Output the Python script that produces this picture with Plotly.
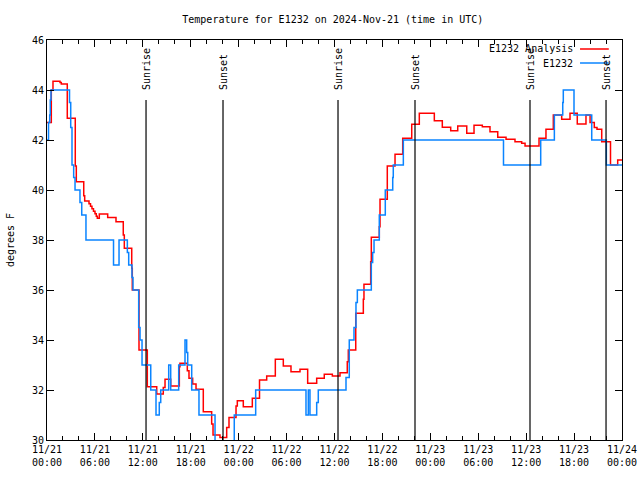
import pandas as pd
import plotly.graph_objects as go

base = pd.Timestamp("2024-11-21 00:00")

# E1232 (observed) : hours since 2024-11-21 00:00 UTC, temperature (F)
obs_hours = [0.00, 0.19, 0.34, 0.41, 0.50, 2.82, 2.97, 3.13, 3.34, 3.51, 4.13, 4.35, 4.88,
             8.33, 9.02, 10.06, 10.23, 10.64, 10.77, 11.48, 11.65, 11.90, 12.99, 13.65, 14.06,
             14.24, 15.24, 15.49, 16.49, 17.28, 17.49, 17.62, 18.12, 19.03, 21.04, 23.45,
             26.13, 32.43, 32.72, 32.93, 33.77, 33.97, 37.44, 37.85, 38.44, 38.69, 38.86,
             40.61, 40.78, 40.95, 41.61, 42.36, 43.29, 43.36, 44.62, 57.16, 61.82, 63.53,
             64.58, 64.65, 65.99, 68.21, 70.04, 72.00]
obs_temp = [42.0, 42.7, 43.0, 43.6, 44.0, 43.5, 42.5, 41.0, 40.5, 40.0, 39.5, 39.0, 38.0,
            37.0, 38.0, 37.5, 37.0, 36.5, 36.0, 34.5, 34.0, 33.0, 32.0, 31.0, 31.5,
            32.0, 33.0, 32.0, 33.0, 34.0, 33.5, 33.0, 32.0, 31.0, 29.5, 31.0,
            32.0, 31.0, 32.0, 31.0, 31.5, 32.0, 32.5, 34.0, 34.5, 35.5, 36.0,
            37.1, 37.5, 38.0, 39.0, 40.0, 40.5, 41.0, 42.0, 41.0, 42.0, 43.0,
            43.5, 44.0, 43.0, 42.0, 41.0, 41.0]

# E1232 Analysis
ana_hours = [0.00, 0.54, 0.75, 1.63, 1.79, 2.54, 3.54, 3.67, 4.60, 4.72, 5.26, 5.45, 5.63,
             5.82, 6.01, 6.17, 6.30, 6.55, 7.60, 8.64, 9.55, 9.68, 10.61, 10.68, 11.52,
             12.56, 13.74, 14.56, 14.78, 15.49, 16.57, 16.65, 17.57, 17.78, 18.24, 18.66,
             19.57, 20.62, 20.79, 21.66, 22.50, 22.79, 23.67, 23.83, 24.58, 25.71, 26.61,
             27.51, 28.59, 29.59, 30.55, 31.68, 32.64, 33.77, 34.72, 35.73, 36.69, 37.60,
             37.73, 38.66, 39.61, 39.69, 40.53, 40.61, 41.61, 41.70, 42.61, 43.58, 44.54,
             45.67, 46.62, 48.50, 49.50, 50.55, 51.43, 52.56, 53.47, 54.51, 55.47, 56.44,
             57.48, 58.60, 59.44, 59.86, 61.61, 62.48, 63.40, 64.45, 65.49, 66.40, 67.49,
             68.00, 68.53, 68.87, 69.46, 70.56, 71.46, 72.00]
ana_temp = [42.7, 44.0, 44.35, 44.3, 44.24, 42.87, 40.96, 40.33, 39.77, 39.56, 39.45, 39.35, 39.25,
            39.15, 39.05, 38.95, 38.87, 39.04, 38.9, 38.73, 38.2, 37.67, 36.87, 36.0, 33.6,
            32.13, 31.84, 32.1, 32.43, 32.16, 32.93, 33.07, 32.77, 32.47, 32.24, 32.03,
            31.13, 30.64, 30.2, 30.1, 30.5, 30.9, 31.36, 31.57, 31.33, 31.67, 32.4,
            32.56, 33.23, 32.96, 32.73, 32.83, 32.27, 32.47, 32.63, 32.56, 32.69, 33.13,
            33.6, 35.07, 35.63, 36.23, 37.13, 38.11, 38.53, 39.63, 40.96, 41.43, 42.07,
            42.63, 43.07, 42.77, 42.51, 42.37, 42.56, 42.27, 42.59, 42.53, 42.33, 42.11,
            42.03, 41.93, 41.87, 41.76, 42.07, 42.43, 43.0, 42.83, 43.07, 42.64, 43.0,
            42.7, 42.5, 42.43, 41.93, 41.0, 41.2, 41.2]

# Sun events (hours since start)
sun_hours = [12.40, 22.04, 36.44, 46.08, 60.48, 70.00]
sun_labels = ["Sunrise", "Sunset", "Sunrise", "Sunset", "Sunrise", "Sunset"]

def to_time(hours):
    return [base + pd.Timedelta(hours=h) for h in hours]

FONT = "DejaVu Sans Mono"
RED = "#ff0000"
BLUE = "#0a84ff"

fig = go.Figure()
fig.add_trace(go.Scatter(x=to_time(ana_hours), y=ana_temp, mode="lines", line_shape="hv",
                         line=dict(color=RED, width=1.5), name="E1232 Analysis"))
fig.add_trace(go.Scatter(x=to_time(obs_hours), y=obs_temp, mode="lines", line_shape="hv",
                         line=dict(color=BLUE, width=1.5), name="E1232"))

shapes = []
annotations = []
for h, lab in zip(sun_hours, sun_labels):
    t = base + pd.Timedelta(hours=h)
    shapes.append(dict(type="line", xref="x", yref="paper", x0=t, x1=t, y0=0, y1=0.85,
                       line=dict(color="black", width=1.2)))
    annotations.append(dict(x=t, y=0.87, xref="x", yref="paper", text=lab, textangle=-90,
                            showarrow=False, xanchor="center", yanchor="bottom",
                            font=dict(family=FONT, size=10, color="black")))

# custom legend (gnuplot style: text then line sample)
for i, (name, col) in enumerate([("E1232 Analysis", RED), ("E1232", BLUE)]):
    yy = 0.9775 - i * 0.035
    annotations.append(dict(x=0.918, y=yy, xref="paper", yref="paper", text=name,
                            showarrow=False, xanchor="right", yanchor="middle",
                            font=dict(family=FONT, size=10, color="black")))
    shapes.append(dict(type="line", xref="paper", yref="paper", x0=0.927, x1=0.977,
                       y0=yy, y1=yy, line=dict(color=col, width=1.5)))

fig.update_layout(
    width=640, height=480,
    margin=dict(l=47, r=18, t=40, b=40, autoexpand=False),
    paper_bgcolor="white", plot_bgcolor="white",
    showlegend=False,
    title=dict(text="Temperature for E1232 on 2024-Nov-21 (time in UTC)", x=0.52, xanchor="center",
               y=0.96, yanchor="middle", font=dict(family=FONT, size=10, color="black")),
    font=dict(family=FONT, size=10, color="black"),
    shapes=shapes, annotations=annotations,
)
fig.update_xaxes(type="date", range=[base, base + pd.Timedelta(hours=72)],
                 dtick=6 * 3600 * 1000, tick0=base, tickformat="%m/%d<br>%H:%M",
                 ticks="inside", ticklen=7, tickcolor="black", showgrid=False,
                 showline=True, linecolor="black", linewidth=1, mirror="ticks",
                 minor=dict(dtick=2 * 3600 * 1000, ticks="inside", ticklen=4, tickcolor="black", showgrid=False),
                 tickfont=dict(family=FONT, size=10), zeroline=False, automargin=False)
fig.update_yaxes(range=[30, 46], dtick=2, ticks="inside", ticklen=7, tickcolor="black",
                 showgrid=False, showline=True, linecolor="black", linewidth=1, mirror="ticks",
                 title=dict(text="degrees F", font=dict(family=FONT, size=10), standoff=15),
                 tickfont=dict(family=FONT, size=10), zeroline=False, automargin=False)

fig.write_html("out.html", config={"displayModeBar": False},
               post_script="document.body.style.margin='0';document.body.style.overflow='hidden';")
